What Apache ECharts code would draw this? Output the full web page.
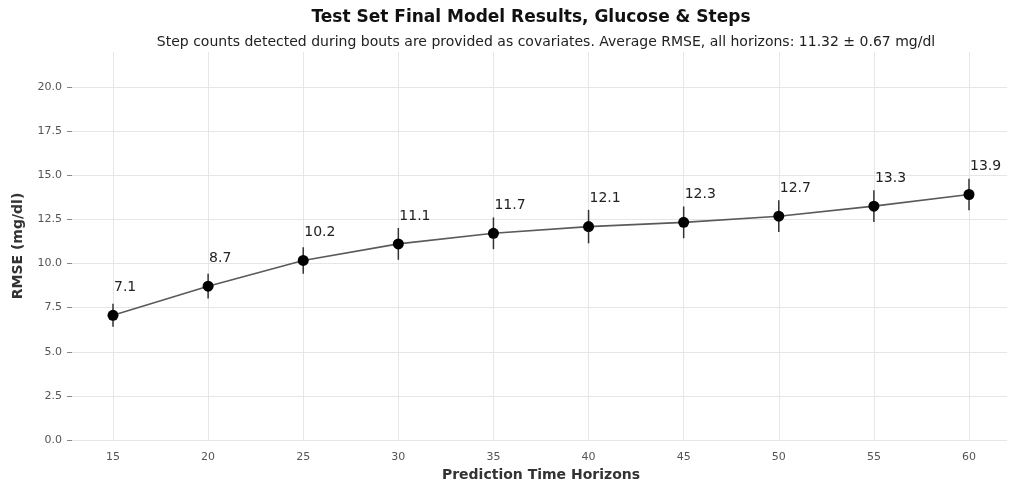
<!DOCTYPE html>
<html>
<head>
<meta charset="utf-8">
<script src="https://cdn.jsdelivr.net/npm/echarts@6/dist/echarts.min.js"></script>
<style>
html,body{margin:0;padding:0;background:#fff;}
#chart{width:1009px;height:486px;}
</style>
</head>
<body>
<div id="chart"></div>
<script>
const horizons = [15, 20, 25, 30, 35, 40, 45, 50, 55, 60];
const rmseMean = [7.07, 8.72, 10.18, 11.12, 11.72, 12.10, 12.34, 12.69, 13.26, 13.92];
const rmseStd = [0.65, 0.70, 0.75, 0.90, 0.90, 0.95, 0.90, 0.90, 0.90, 0.90];
const yTicks = [0, 2.5, 5, 7.5, 10, 12.5, 15, 17.5, 20];

const titleText = 'Test Set Final Model Results, Glucose & Steps';
const subtitleText = 'Step counts detected during bouts are provided as covariates. Average RMSE, all horizons: 11.32 \u00b1 0.67 mg/dl';

const FONT = 'DejaVu Sans';
const chart = echarts.init(document.getElementById('chart'));

const lineData = horizons.map((h, i) => [h, rmseMean[i]]);
const errData = horizons.map((h, i) => [h, rmseMean[i] - rmseStd[i], rmseMean[i] + rmseStd[i]]);

chart.setOption({
  animation: false,
  backgroundColor: '#ffffff',
  title: [
    {text: titleText, left: 526, top: 4, textAlign: 'center',
     textStyle: {fontFamily: FONT, fontSize: 17, fontWeight: 'bold', color: '#111'}},
    {text: subtitleText, left: 541, top: 30, textAlign: 'center',
     textStyle: {fontFamily: FONT, fontSize: 14, fontWeight: 'normal', color: '#222'}}
  ],
  grid: [
    {left: 72, right: 2, top: 87, bottom: 46, containLabel: false, outerBoundsMode: 'none'},
    {left: 113, right: 40, top: 52, bottom: 46, containLabel: false, outerBoundsMode: 'none'}
  ],
  xAxis: [
    {gridIndex: 0, type: 'value', min: 0, max: 1, show: false},
    {gridIndex: 1, type: 'value', min: horizons[0], max: horizons[horizons.length - 1], interval: 5,
     axisLine: {show: false}, axisTick: {show: false},
     axisLabel: {fontFamily: FONT, fontSize: 11, color: '#555', margin: 12},
     splitLine: {show: true, lineStyle: {color: '#e6e6e6', width: 1}},
     name: 'Prediction Time Horizons', nameLocation: 'middle', nameGap: 28,
     nameTextStyle: {fontFamily: FONT, fontSize: 14, fontWeight: 'bold', color: '#333'}}
  ],
  yAxis: [
    {gridIndex: 0, type: 'value', min: yTicks[0], max: yTicks[yTicks.length - 1], interval: 2.5,
     axisLine: {show: false},
     axisTick: {show: true, length: 5, lineStyle: {color: '#888'}},
     axisLabel: {fontFamily: FONT, fontSize: 11, color: '#555', margin: 10,
                 formatter: v => v.toFixed(1)},
     splitLine: {show: true, lineStyle: {color: '#e6e6e6', width: 1}}},
    {gridIndex: 1, type: 'value', min: 0, max: 22,
     axisLine: {show: false}, axisTick: {show: false}, axisLabel: {show: false},
     splitLine: {show: false},
     name: 'RMSE (mg/dl)', nameLocation: 'middle', nameGap: 88,
     nameTextStyle: {fontFamily: FONT, fontSize: 14, fontWeight: 'bold', color: '#333'}}
  ],
  series: [
    {
      type: 'custom', xAxisIndex: 1, yAxisIndex: 1, clip: false, z: 3,
      data: errData,
      renderItem: function (params, api) {
        const p1 = api.coord([api.value(0), api.value(1)]);
        const p2 = api.coord([api.value(0), api.value(2)]);
        return {type: 'line', shape: {x1: p1[0], y1: p1[1], x2: p2[0], y2: p2[1]},
                style: {stroke: '#333', lineWidth: 1.5}};
      }
    },
    {
      type: 'line', xAxisIndex: 1, yAxisIndex: 1, clip: false, z: 4,
      data: lineData,
      symbol: 'circle', symbolSize: 11,
      itemStyle: {color: '#000'},
      lineStyle: {color: '#5a5a5a', width: 1.6},
      label: {show: true, position: 'inside', align: 'left', verticalAlign: 'middle',
              offset: [1, -28],
              fontFamily: FONT, fontSize: 14, color: '#222',
              formatter: p => p.value[1].toFixed(1)}
    }
  ]
});
</script>
</body>
</html>
